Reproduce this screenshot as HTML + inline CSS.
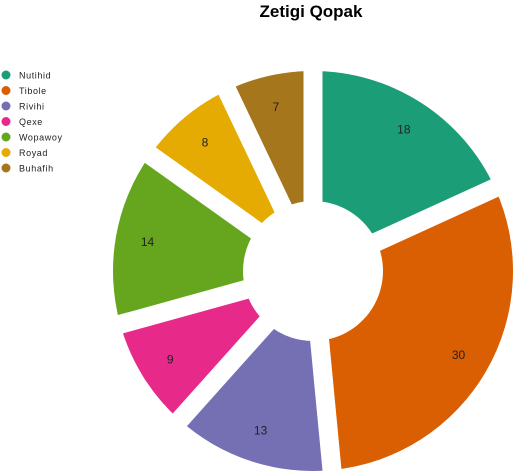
<!DOCTYPE html>
<html><head><meta charset="utf-8"><style>
body{margin:0;background:#fff}
svg{display:block;font-family:"Liberation Sans",sans-serif}
</style></head><body>
<svg id="c" width="513" height="471">
<text x="311" y="17" text-anchor="middle" font-size="17" font-weight="bold" fill="#000">Zetigi Qopak</text>
<g id="slices"></g>
<g id="gaps"></g>
<g id="labels"></g>
<g id="legend"></g>
</svg>
<script>
const categories=["Nutihid","Tibole","Rivihi","Qexe","Wopawoy","Royad","Buhafih"];
const values=[18,30,13,9,14,8,7];
const colors=["#1b9e77","#d95f02","#7570b3","#e7298a","#66a61e","#e6ab02","#a6761d"];
const NS="http://www.w3.org/2000/svg";
const cx=313,cy=271,R=200,r0=70,lr=168,gap=19;
const total=values.reduce((a,b)=>a+b,0);
const sg=document.getElementById('slices'),gg=document.getElementById('gaps'),lgl=document.getElementById('labels');
let acc=0;
function pt(a,r){return [cx+r*Math.sin(a),cy-r*Math.cos(a)];}
values.forEach((v,i)=>{
  const a0=acc/total*2*Math.PI;acc+=v;const a1=acc/total*2*Math.PI;
  const am=(a0+a1)/2;
  const large=(a1-a0)>Math.PI?1:0;
  const p1=pt(a0,R),p2=pt(a1,R),p3=pt(a1,r0),p4=pt(a0,r0);
  const p=document.createElementNS(NS,'path');
  p.setAttribute('d',`M${p1}A${R},${R} 0 ${large} 1 ${p2}L${p3}A${r0},${r0} 0 ${large} 0 ${p4}Z`);
  p.setAttribute('fill',colors[i]);
  
  
  sg.appendChild(p);
  const e=pt(a0,R+10);
  const l=document.createElementNS(NS,'line');
  l.setAttribute('x1',cx);l.setAttribute('y1',cy);l.setAttribute('x2',e[0]);l.setAttribute('y2',e[1]);
  l.setAttribute('stroke','#fff');l.setAttribute('stroke-width',gap);
  
  
  gg.appendChild(l);
  const lp=pt(am,lr);
  const t=document.createElementNS(NS,'text');
  t.setAttribute('x',lp[0]);t.setAttribute('y',lp[1]+4);
  t.setAttribute('text-anchor','middle');t.setAttribute('font-size','12');t.setAttribute('fill','#222');
  t.textContent=v;
  
  
  lgl.appendChild(t);
});
const lg=document.getElementById('legend');
categories.forEach((c,i)=>{
  const y=75+i*15.5;
  const ci=document.createElementNS(NS,'circle');
  ci.setAttribute('cx',6);ci.setAttribute('cy',y);ci.setAttribute('r',4.5);ci.setAttribute('fill',colors[i]);
  
  
  lg.appendChild(ci);
  const t=document.createElementNS(NS,'text');
  t.setAttribute('x',19);t.setAttribute('y',y+3.5);t.setAttribute('font-size','9');t.setAttribute('fill','#222');
  t.setAttribute('letter-spacing','0.6');
  t.textContent=c;
  
  
  lg.appendChild(t);
});
</script>
</body></html>
